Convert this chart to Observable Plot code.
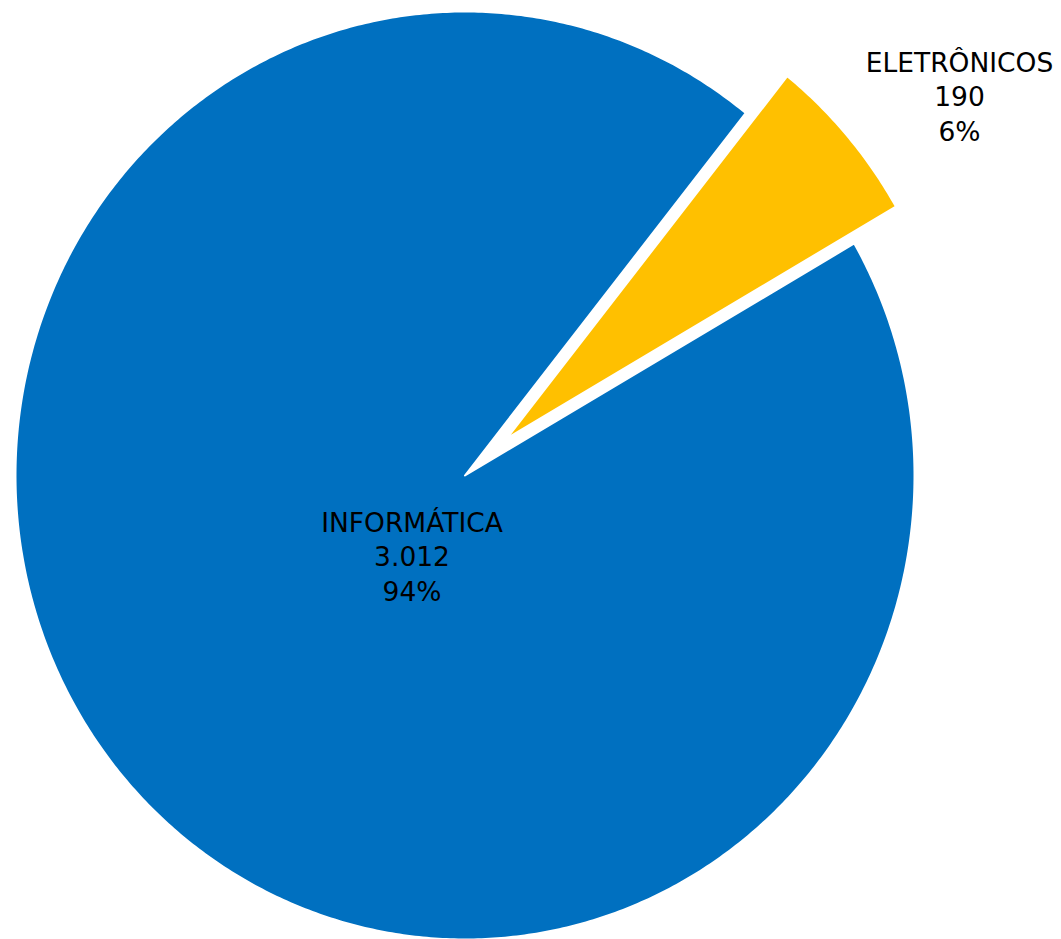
<!DOCTYPE html>
<html>
<head>
<meta charset="utf-8">
<script src="https://cdn.jsdelivr.net/npm/d3@7"></script>
<script src="https://cdn.jsdelivr.net/npm/@observablehq/plot@0.6"></script>
<style>
  html, body { margin: 0; padding: 0; background: #fff; }
  #chart svg { display: block; }
</style>
</head>
<body>
<div id="chart"></div>
<script>
// ---- data ----
const categories = ["INFORMÁTICA", "ELETRÔNICOS"];
const values = [3012, 190];
const colors = ["#0070C0", "#FFC000"];
const explode = [0, 0.122];          // radial offset (fraction of radius)

// ---- layout constants ----
const startAngleDeg = 60;            // first slice starts here, clockwise from 12 o'clock
const labelPolar = [[0.2085, 214.4], [1.372, 53.3]]; // [radius, angle] for each label block

const total = d3.sum(values);
const ptBR = d3.formatLocale({decimal: ",", thousands: ".", grouping: [3], currency: ["R$", ""]});
const fmtNum = ptBR.format(",d");

const rad = d => d * Math.PI / 180;
const pts = [];
const labels = [];
let acc = startAngleDeg;
categories.forEach((c, i) => {
  const span = values[i] / total * 360;
  const a0 = acc, a1 = acc + span;
  acc = a1;
  const mid = (a0 + a1) / 2;
  const ox = explode[i] * Math.sin(rad(mid));
  const oy = explode[i] * Math.cos(rad(mid));
  pts.push({cat: c, x: ox, y: oy});
  const n = Math.max(8, Math.ceil(span * 2));
  for (let k = 0; k <= n; k++) {
    const a = rad(a0 + (a1 - a0) * k / n);
    pts.push({cat: c, x: ox + Math.sin(a), y: oy + Math.cos(a)});
  }
  const [lr, la] = labelPolar[i];
  labels.push({
    cat: c,
    x: lr * Math.sin(rad(la)),
    y: lr * Math.cos(rad(la)),
    text: `${c}\n${fmtNum(values[i])}\n${Math.round(values[i] / total * 100)}%`
  });
});

const chart = Plot.plot({
  width: 1061,
  height: 939,
  marginLeft: 15,
  marginRight: 147,
  marginTop: 11,
  marginBottom: 0,
  x: {domain: [-1, 1], axis: null},
  y: {domain: [-1, 1], axis: null},
  color: {domain: categories, range: colors},
  style: {fontFamily: "'DejaVu Sans', Verdana, sans-serif", background: "#fff"},
  marks: [
    Plot.line(pts, {x: "x", y: "y", z: "cat", fill: "cat", stroke: "#fff", strokeWidth: 2, curve: "linear-closed"}),
    Plot.text(labels, {x: "x", y: "y", text: "text", fontSize: 26.5, lineHeight: 1.3, fill: "#000", textAnchor: "middle"})
  ]
});
document.getElementById("chart").appendChild(chart);
</script>
</body>
</html>
